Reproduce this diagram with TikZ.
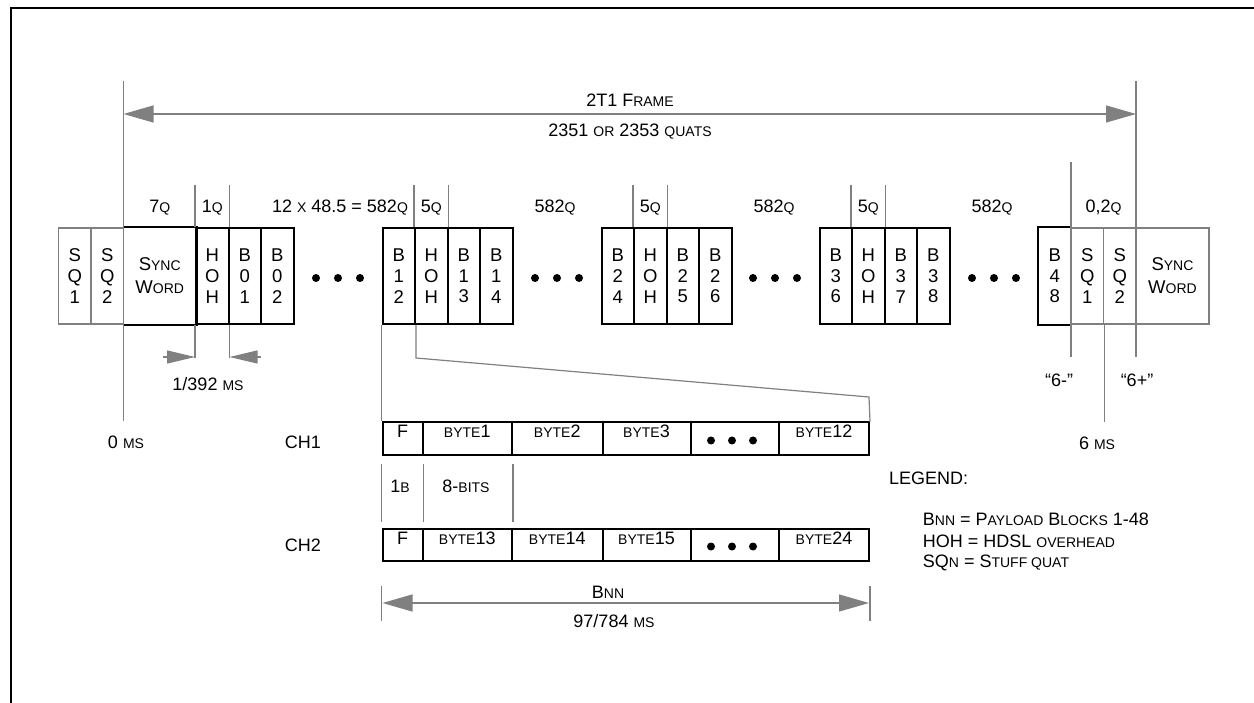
\documentclass[tikz,border=0pt]{standalone}
\usepackage{fontspec}
\setmainfont{Liberation Sans}
\usetikzlibrary{arrows.meta}
\definecolor{lgray}{RGB}{128,128,128}
\newcommand{\sm}[1]{{\fontsize{14}{15}\selectfont #1}}
\newcommand{\tridots}[3]{\fill (#1-#3,#2) circle (4pt) (#1,#2) circle (4pt) (#1+#3,#2) circle (4pt);}

\begin{document}
\begin{tikzpicture}[x=1pt, y=-1pt,
        gline/.style={draw=lgray, line width=1.2pt},
        bigtip/.style={{Triangle[length=30pt,width=17pt]}-{Triangle[length=30pt,width=17pt]}, lgray},
        smalltip/.style={-{Triangle[length=28pt,width=13pt]}, lgray},
        lbl/.style={font=\fontsize{18}{21}\selectfont, inner sep=0pt}]
        \useasboundingbox (0,0) rectangle (1254,703);
        \draw[line width=2pt] (11,703) -- (11,8) -- (1254,8);

        \begin{scope}[every node/.style={rectangle, draw=black, line width=2pt, minimum width=32.5pt, minimum height=96pt, inner sep=0pt, align=center, font=\fontsize{18.5}{20.7}\selectfont}]
            \node (sync0) [draw=none, minimum width=72.5pt, font=\fontsize{18.5}{23}\selectfont] at (159.75,276) {S\sm{YNC}\\W\sm{ORD}};
            \node (hoh1) at (212.25,276) {H\\O\\H};
            \node (b01) at (244.75,276) {B\\0\\1};
            \node (b02) at (277.25,276) {B\\0\\2};
            \node (b12) at (398.75,276) {B\\1\\2};
            \node (hoh2) at (431.25,276) {H\\O\\H};
            \node (b13) at (463.75,276) {B\\1\\3};
            \node (b14) at (496.25,276) {B\\1\\4};
            \node (b24) at (617.75,276) {B\\2\\4};
            \node (hoh3) at (650.25,276) {H\\O\\H};
            \node (b25) at (682.75,276) {B\\2\\5};
            \node (b26) at (715.25,276) {B\\2\\6};
            \node (b36) at (835.75,276) {B\\3\\6};
            \node (hoh4) at (868.25,276) {H\\O\\H};
            \node (b37) at (900.75,276) {B\\3\\7};
            \node (b38) at (933.25,276) {B\\3\\8};
            \node (b48) [draw=none] at (1054.75,276) {B\\4\\8};
        \end{scope}
        \draw[line width=2pt] (sync0.north west) -- (sync0.north east) -- (sync0.south east) -- (sync0.south west);
        \draw[line width=2pt] (b48.north east) -- (b48.north west) -- (b48.south west) -- (b48.south east);
        \begin{scope}[every node/.style={rectangle, draw=lgray, line width=1.2pt, minimum width=32.5pt, minimum height=96pt, inner sep=0pt, align=center, font=\fontsize{18.5}{20.7}\selectfont}]
            \node (sq1a) at (74.75,276) {S\\Q\\1};
            \node (sq2a) at (107.25,276) {S\\Q\\2};
            \node (sq1b) at (1087.25,276) {S\\Q\\1};
            \node (sq2b) at (1119.75,276) {S\\Q\\2};
            \node (sync1) [minimum width=73pt, font=\fontsize{18.5}{23}\selectfont] at (1172.5,276) {S\sm{YNC}\\W\sm{ORD}};
        \end{scope}
        \tridots{338}{278}{22}
        \tridots{557}{278}{22}
        \tridots{775}{278}{22}
        \tridots{994}{278}{22}

        \begin{scope}[every node/.style={rectangle, draw=black, line width=2pt, minimum height=32pt, inner sep=0pt, text height=12.5pt, text depth=14pt, font=\fontsize{18}{21}\selectfont}]
            \node (f1) [minimum width=40pt] at (402.5,438.5) {F};
            \node (by1) [minimum width=89.5pt] at (467.25,438.5) {\sm{BYTE}1};
            \node (by2) [minimum width=90.5pt] at (557.25,438.5) {\sm{BYTE}2};
            \node (by3) [minimum width=88pt] at (646.5,438.5) {\sm{BYTE}3};
            \node (dd1) [minimum width=88.5pt] at (734.75,438.5) {};
            \node (by12) [minimum width=90pt] at (824,438.5) {\sm{BYTE}12};
            \node (f2) [minimum width=40pt] at (402.5,545) {F};
            \node (by13) [minimum width=89.5pt] at (467.25,545) {\sm{BYTE}13};
            \node (by14) [minimum width=90.5pt] at (557.25,545) {\sm{BYTE}14};
            \node (by15) [minimum width=88pt] at (646.5,545) {\sm{BYTE}15};
            \node (dd2) [minimum width=88.5pt] at (734.75,545) {};
            \node (by24) [minimum width=90pt] at (824,545) {\sm{BYTE}24};
        \end{scope}
        \tridots{732}{440.5}{21}
        \tridots{732}{546.5}{21}

        \coordinate (ftop0) at (123.5,81);
        \coordinate (fbot0) at (123.5,421);
        \coordinate (ftop1) at (1136,81);
        \coordinate (fbot1) at (1136,357);
        \coordinate (fl) at (123.5,114);
        \coordinate (fr) at (1136,114);
        \coordinate (m6a) at (1071,162);
        \coordinate (m6b) at (1071,357);
        \coordinate (zr) at (869,397);
        \coordinate (a1) at (163,357);
        \coordinate (a2) at (261,357);
        \coordinate (bl) at (382.5,603);
        \coordinate (br) at (869,603);

        \draw[gline] (ftop0) -- (fbot0);
        \draw[gline] (ftop1) -- (fbot1);
        \draw[gline] (m6a) -- (m6b);
        \draw[gline, bigtip] (fl) -- (fr);
        \draw[gline] (sq1b.south east) -- ++(0,97);
        \draw[gline] (hoh1.north west) -- ++(0,-42);
        \draw[gline] (hoh1.north east) -- ++(0,-42);
        \draw[gline] (hoh2.north west) -- ++(0,-42);
        \draw[gline] (hoh2.north east) -- ++(0,-42);
        \draw[gline] (hoh3.north west) -- ++(0,-42);
        \draw[gline] (hoh3.north east) -- ++(0,-42);
        \draw[gline] (hoh4.north west) -- ++(0,-42);
        \draw[gline] (hoh4.north east) -- ++(0,-42);
        \draw[gline] (hoh1.south west) -- ++(0,33);
        \draw[gline] (hoh1.south east) -- ++(0,33);
        \draw[gline, smalltip] (a1) -- (hoh1.south west |- a1);
        \draw[gline, smalltip] (a2) -- (hoh1.south east |- a2);
        \draw[gline] (b12.south west) -- (f1.north west);
        \draw[gline] (b12.south east) -- ++(0,33) -- (zr) -- (by12.north east);
        \draw[gline] (f1.south west) ++(0,8.5) -- ++(0,58);
        \draw[gline] (f1.south east) ++(0,8.5) -- ++(0,58);
        \draw[gline] (by1.south east) ++(0,8.5) -- ++(0,58);
        \draw[gline] (f2.south west) ++(0,23.5) -- ++(0,35);
        \draw[gline] (by24.south east) ++(0,23.5) -- ++(0,35);
        \draw[gline, bigtip] (bl) -- (br);

        \begin{scope}[every node/.style={lbl}]
            \node (frame) at (630,100) {2T1 F\sm{RAME}};
            \node (quats) at (630,132) {2351 \sm{OR} 2353 \sm{QUATS}};
            \node (q7) at (159.75,208) {7\sm{Q}};
            \node (q1) at (212.25,208) {1\sm{Q}};
            \node (q582a) at (340,208) {12 \sm{X} 48.5 = 582\sm{Q}};
            \node (q5a) at (431.25,208) {5\sm{Q}};
            \node (q582b) at (555,208) {582\sm{Q}};
            \node (q5b) at (650.25,208) {5\sm{Q}};
            \node (q582c) at (774,208) {582\sm{Q}};
            \node (q5c) at (868.25,208) {5\sm{Q}};
            \node (q582d) at (992,208) {582\sm{Q}};
            \node (q02) at (1103.5,208) {0,2\sm{Q}};
            \node (t392) at (208,384) {1/392 \sm{MS}};
            \node (ms0) at (126,442) {0 \sm{MS}};
            \node (ch1) at (303,442) {CH1};
            \node (ch2) at (303,545) {CH2};
            \node (ms6) at (1097,443) {6 \sm{MS}};
            \node (sixm) at (1059,380) {“6-”};
            \node (sixp) at (1137,380) {“6+”};
            \node (oneb) at (400,486) {1\sm{B}};
            \node (bits) at (466,486) {8-\sm{BITS}};
            \node (bnn) at (608,592) {B\sm{NN}};
            \node (msb) at (614,621) {97/784 \sm{MS}};
            \node (leg) [anchor=west] at (889,478) {LEGEND:};
            \node (leg1) [anchor=west] at (922.7,519) {B\sm{NN} = P\sm{AYLOAD} B\sm{LOCKS} 1-48};
            \node (leg2) [anchor=west] at (922.7,541.7) {HOH = HDSL \sm{OVERHEAD}};
            \node (leg3) [anchor=west] at (922.7,563.3) {SQ\sm{N} = S\sm{TUFF QUAT}};
        \end{scope}
    \end{tikzpicture}
\end{document}
